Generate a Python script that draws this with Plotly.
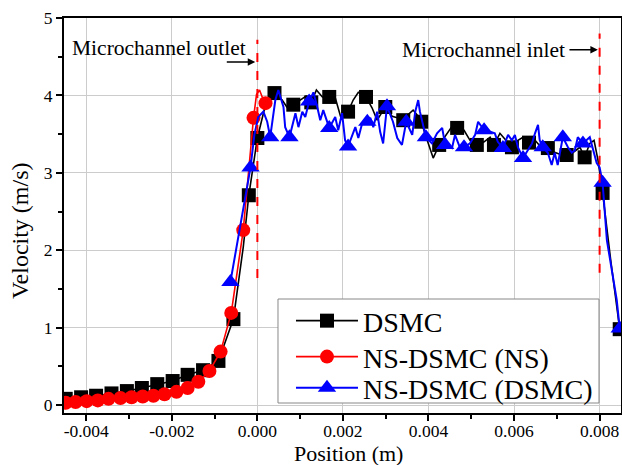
import plotly.graph_objects as go

# ---------------- data ----------------
# DSMC: dense line + square markers
dsmc_line_x = [-0.00448, -0.00412, -0.00377, -0.00341, -0.00305, -0.00270, -0.00234, -0.00198,
               -0.00163, -0.00127, -0.00091, -0.00056, -0.00033, -0.00020, 0.00000, 0.00019,
               0.00040, 0.00058, 0.00070, 0.00084, 0.00100, 0.00114, 0.00126, 0.00138, 0.00152,
               0.00168, 0.00182, 0.00196, 0.00212, 0.00224, 0.00236, 0.00254, 0.00268, 0.00280,
               0.00299, 0.00315, 0.00327, 0.00341, 0.00352, 0.00364, 0.00373, 0.00383, 0.00397,
               0.00411, 0.00425, 0.00441, 0.00455, 0.00467, 0.00483, 0.00497, 0.00513, 0.00530,
               0.00544, 0.00553, 0.00567, 0.00581, 0.00595, 0.00609, 0.00621, 0.00635, 0.00649,
               0.00663, 0.00679, 0.00693, 0.00707, 0.00723, 0.00737, 0.00754, 0.00765, 0.00777,
               0.00787, 0.00796, 0.00807, 0.00826, 0.00847]
dsmc_line_y = [0.08, 0.10, 0.12, 0.15, 0.18, 0.22, 0.27, 0.31,
               0.39, 0.45, 0.57, 1.11, 2.04, 2.71, 3.45, 3.88,
               4.03, 3.94, 3.84, 3.88, 3.94, 3.99, 3.91, 4.07, 3.98,
               3.98, 3.97, 3.70, 3.79, 3.94, 4.04, 3.98, 3.84, 3.68,
               3.85, 3.73, 3.71, 3.68, 3.75, 3.81, 3.75, 3.66, 3.42,
               3.19, 3.36, 3.49, 3.60, 3.58, 3.55, 3.42, 3.36, 3.40,
               3.46, 3.36, 3.51, 3.42, 3.33, 3.42, 3.46, 3.39, 3.42,
               3.33, 3.32, 3.27, 3.24, 3.23, 3.26, 3.33, 3.20, 3.38,
               3.42, 3.17, 2.74, 1.87, 0.98]
dsmc_mark_x = [-0.00448, -0.00412, -0.00377, -0.00341, -0.00305, -0.00270, -0.00234, -0.00198,
               -0.00163, -0.00127, -0.00091, -0.00056, -0.00020, 0.00000, 0.00040, 0.00084,
               0.00126, 0.00168, 0.00212, 0.00254, 0.00299, 0.00341, 0.00383, 0.00425, 0.00467,
               0.00513, 0.00553, 0.00595, 0.00635, 0.00679, 0.00723, 0.00765, 0.00807, 0.00847]
dsmc_mark_y = [0.08, 0.10, 0.12, 0.15, 0.18, 0.22, 0.27, 0.31,
               0.39, 0.45, 0.57, 1.11, 2.71, 3.45, 4.03, 3.88,
               3.91, 3.98, 3.79, 3.98, 3.85, 3.68, 3.66, 3.36, 3.58,
               3.36, 3.36, 3.33, 3.39, 3.32, 3.23, 3.20, 2.74, 0.98]

# NS-DSMC (NS): circles + a little overshoot at the interface
ns_line_x = [-0.00448, -0.00425, -0.00399, -0.00373, -0.00348, -0.00320, -0.00294, -0.00268,
             -0.00243, -0.00217, -0.00189, -0.00163, -0.00138, -0.00112, -0.00086, -0.00061,
             -0.00033, -0.00009, -0.00002, 0.00005, 0.00012, 0.00019]
ns_line_y = [0.03, 0.04, 0.05, 0.06, 0.08, 0.09, 0.10, 0.11,
             0.12, 0.14, 0.17, 0.22, 0.30, 0.44, 0.69, 1.19,
             2.26, 3.71, 4.01, 4.07, 3.97, 3.90]
ns_mark_x = [-0.00448, -0.00425, -0.00399, -0.00373, -0.00348, -0.00320, -0.00294, -0.00268,
             -0.00243, -0.00217, -0.00189, -0.00163, -0.00138, -0.00112, -0.00086, -0.00061,
             -0.00033, -0.00009, 0.00019]
ns_mark_y = [0.03, 0.04, 0.05, 0.06, 0.08, 0.09, 0.10, 0.11,
             0.12, 0.14, 0.17, 0.22, 0.30, 0.44, 0.69, 1.19,
             2.26, 3.71, 3.90]

# NS-DSMC (DSMC): noisy line + triangle markers
nsd_line_x = [-0.00063, -0.00040, -0.00016, -0.00007, 0.00002, 0.00014, 0.00023, 0.00030,
              0.00042, 0.00049, 0.00056, 0.00061, 0.00065, 0.00075, 0.00089, 0.00096,
              0.00105, 0.00112, 0.00121, 0.00131, 0.00140, 0.00147, 0.00154, 0.00168,
              0.00182, 0.00189, 0.00198, 0.00205, 0.00212, 0.00229, 0.00236, 0.00245,
              0.00257, 0.00264, 0.00271, 0.00280, 0.00287, 0.00294, 0.00303, 0.00317,
              0.00327, 0.00338, 0.00348, 0.00362, 0.00369, 0.00376, 0.00380, 0.00387,
              0.00394, 0.00408, 0.00420, 0.00432, 0.00439, 0.00455, 0.00462, 0.00474,
              0.00483, 0.00497, 0.00509, 0.00516, 0.00530, 0.00544, 0.00555, 0.00562,
              0.00574, 0.00586, 0.00595, 0.00602, 0.00609, 0.00621, 0.00642, 0.00649,
              0.00656, 0.00660, 0.00667, 0.00679, 0.00688, 0.00695, 0.00702, 0.00714,
              0.00726, 0.00735, 0.00742, 0.00749, 0.00761, 0.00777, 0.00784, 0.00793,
              0.00800, 0.00807, 0.00817, 0.00829, 0.00840, 0.00847]
nsd_line_y = [1.59, 2.33, 3.07, 3.49, 3.72, 3.79, 3.66, 3.46,
              3.94, 4.07, 3.94, 3.85, 3.59, 3.46, 3.77, 3.59,
              3.79, 3.72, 3.92, 4.04, 3.85, 3.68, 3.81, 3.58,
              3.72, 3.55, 3.77, 3.42, 3.34, 3.59, 3.45, 3.64,
              3.66, 3.71, 3.59, 3.79, 3.53, 3.38, 3.86, 3.66,
              3.45, 3.36, 3.66, 3.49, 3.79, 3.94, 3.79, 3.62,
              3.46, 3.38, 3.51, 3.58, 3.36, 3.32, 3.49, 3.32,
              3.33, 3.38, 3.49, 3.66, 3.55, 3.53, 3.51, 3.40,
              3.32, 3.49, 3.42, 3.49, 3.33, 3.19, 3.38, 3.51,
              3.62, 3.42, 3.33, 3.26, 3.10, 3.26, 3.10, 3.46,
              3.33, 3.26, 3.29, 3.46, 3.38, 3.46, 3.33, 3.13,
              3.07, 2.87, 2.13, 1.71, 1.36, 0.99]
nsd_mark_x = [-0.00063, -0.00016, 0.00030, 0.00075, 0.00121, 0.00168, 0.00212, 0.00257,
              0.00303, 0.00348, 0.00394, 0.00439, 0.00483, 0.00530, 0.00574, 0.00621,
              0.00667, 0.00714, 0.00761, 0.00807, 0.00847]
nsd_mark_y = [1.59, 3.07, 3.46, 3.46, 3.92, 3.58, 3.34, 3.66,
              3.86, 3.66, 3.46, 3.36, 3.33, 3.55, 3.32, 3.19,
              3.33, 3.46, 3.38, 2.87, 0.99]

series_names = ["DSMC", "NS-DSMC (NS)", "NS-DSMC (DSMC)"]
x_tick_vals = [-0.004, -0.002, 0.0, 0.002, 0.004, 0.006, 0.008]
x_tick_text = ["-0.004", "-0.002", "0.000", "0.002", "0.004", "0.006", "0.008"]
y_tick_vals = [0, 1, 2, 3, 4, 5]
interface_x = [0.0, 0.008]
interface_y0 = [1.64, 1.71]
interface_y1 = [4.72, 4.80]
x_title = "Position (m)"
y_title = "Velocity (m/s)"

# ---------------- styling ----------------
FONT = "Liberation Serif"
BLACK, RED, BLUE = "#000000", "#ff0000", "#0000ff"
LEGEND_ROWS_Y = [0.233, 0.142, 0.063]   # paper y of each legend row
LEGEND_X = 0.4075

fig = go.Figure()

def add_series(lx, ly, mx, my, color, symbol, msize, lw, name, legend_id):
    fig.add_trace(go.Scatter(x=lx, y=ly, mode="lines", line=dict(color=color, width=lw),
                             showlegend=False, hoverinfo="skip"))
    fig.add_trace(go.Scatter(x=mx, y=my, mode="markers",
                             marker=dict(color=color, symbol=symbol, size=msize, line=dict(width=0)),
                             showlegend=False))
    fig.add_trace(go.Scatter(x=[None], y=[None], mode="lines+markers", name=name,
                             line=dict(color=color, width=lw), legend=legend_id,
                             marker=dict(color=color, symbol=symbol, size=msize)))

add_series(dsmc_line_x, dsmc_line_y, dsmc_mark_x, dsmc_mark_y, BLACK, "square", 14, 1.6,
           series_names[0], "legend")
add_series(ns_line_x, ns_line_y, ns_mark_x, ns_mark_y, RED, "circle", 14, 1.6,
           series_names[1], "legend2")
add_series(nsd_line_x, nsd_line_y, nsd_mark_x, nsd_mark_y, BLUE, "triangle-up", 16, 2,
           series_names[2], "legend3")

for xv, y0, y1 in zip(interface_x, interface_y0, interface_y1):
    fig.add_shape(type="line", x0=xv, x1=xv, y0=y0, y1=y1, xref="x", yref="y",
                  line=dict(color=RED, width=2, dash="dash"))

# legend frame
fig.add_shape(type="rect", xref="paper", yref="paper", x0=0.3842, x1=0.9605, y0=0.0253, y1=0.2886,
              fillcolor="white", line=dict(color="#888888", width=1), layer="above")

# annotations
fig.add_annotation(x=-0.00021, y=4.61, xref="x", yref="y", text="Microchannel outlet",
                   showarrow=False, xanchor="right", yanchor="middle",
                   font=dict(family=FONT, size=21.5, color="black"))
fig.add_annotation(x=-0.00005, y=4.43, ax=-0.00075, ay=4.43, xref="x", yref="y",
                   axref="x", ayref="y", text="", showarrow=True, arrowhead=2,
                   arrowsize=1, arrowwidth=1.5, arrowcolor="black")
fig.add_annotation(x=0.00723, y=4.59, xref="x", yref="y", text="Microchannel inlet",
                   showarrow=False, xanchor="right", yanchor="middle",
                   font=dict(family=FONT, size=21.5, color="black"))
fig.add_annotation(x=0.00796, y=4.59, ax=0.00726, ay=4.59, xref="x", yref="y",
                   axref="x", ayref="y", text="", showarrow=True, arrowhead=2,
                   arrowsize=1, arrowwidth=1.5, arrowcolor="black")

# axis titles
fig.add_annotation(x=0.511, y=-0.1025, xref="paper", yref="paper", text=x_title,
                   showarrow=False, xanchor="center", yanchor="middle",
                   font=dict(family=FONT, size=22, color="black"))
fig.add_annotation(x=-0.079, y=0.463, xref="paper", yref="paper", text=y_title,
                   showarrow=False, xanchor="center", yanchor="middle", textangle=-90,
                   font=dict(family=FONT, size=24, color="black"))

axis_common = dict(showline=True, linecolor="black", linewidth=2, mirror=True,
                   ticks="outside", ticklen=6, tickwidth=1.5, tickcolor="black",
                   showgrid=True, gridcolor="#cccccc", gridwidth=1, zeroline=False,
                   automargin=False,
                   tickfont=dict(family=FONT, size=17.5, color="black"))

fig.update_xaxes(range=[-0.00452, 0.0085], tickmode="array", tickvals=x_tick_vals,
                 ticktext=x_tick_text, ticklabelstandoff=-5,
                 minor=dict(tickmode="linear", tick0=0, dtick=0.001, ticks="outside",
                            ticklen=4, tickwidth=1.5, tickcolor="black", showgrid=False),
                 **axis_common)
fig.update_yaxes(range=[-0.103, 5.0], tickmode="array", tickvals=y_tick_vals,
                 minor=dict(tickmode="linear", tick0=0, dtick=0.5, ticks="outside",
                            ticklen=4, tickwidth=1.5, tickcolor="black", showgrid=False),
                 **axis_common)

legend_common = dict(x=LEGEND_X, xanchor="left", yanchor="middle",
                     bgcolor="rgba(0,0,0,0)", borderwidth=0,
                     font=dict(family=FONT, size=28, color="black"),
                     itemwidth=62, tracegroupgap=0)

fig.update_layout(
    width=622, height=465,
    margin=dict(l=64, r=1, t=18, b=52),
    plot_bgcolor="white", paper_bgcolor="white",
    font=dict(family=FONT, color="black"),
    legend=dict(y=LEGEND_ROWS_Y[0], **legend_common),
    legend2=dict(y=LEGEND_ROWS_Y[1], **legend_common),
    legend3=dict(y=LEGEND_ROWS_Y[2], **legend_common),
)

fig.write_html("out.html")
